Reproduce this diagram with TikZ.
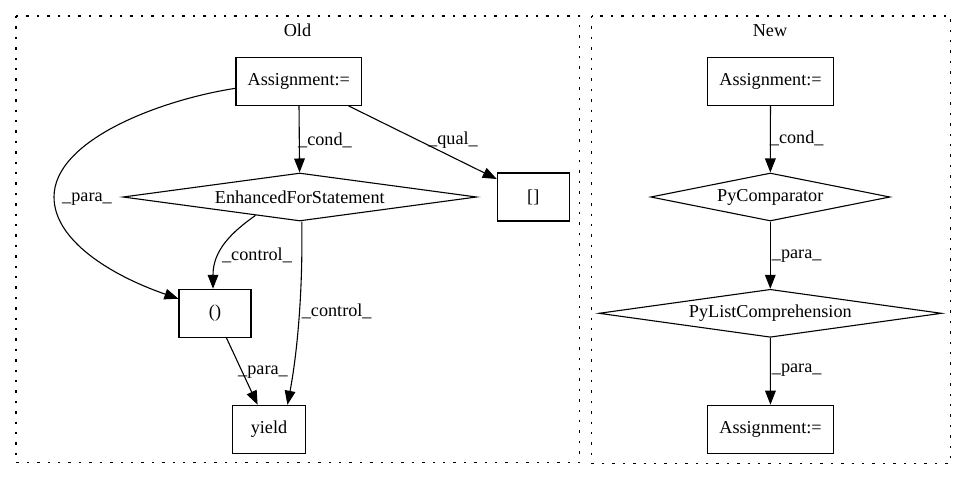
\documentclass[tikz,border=0pt]{standalone}
\usepackage{fontspec}
\setmainfont{Liberation Serif}
\usetikzlibrary{shapes.geometric,arrows.meta,calc}
\begin{document}
\begin{tikzpicture}[x=1pt,y=-1pt,
  every node/.style={font=\fontsize{18.2}{20}\selectfont, inner sep=0pt},
  box/.style={draw, line width=1.1pt, minimum height=48pt},
  dia/.style={draw, diamond, line width=1.1pt, minimum height=48pt},
  conn/.style={line width=1.1pt, -{Triangle[length=14pt,width=10.7pt]}},
  cluster/.style={line width=1.2pt, dash pattern=on 2.4pt off 8pt}]
\useasboundingbox (0,0) rectangle (967,480);
% clusters
\draw[cluster] (16,16) rectangle (579.3,462.7);
\draw[cluster] (591.7,16) rectangle (950.7,463.3);
\node (told) at (297.5,30.7) {Old};
\node (tnew) at (770,30.7) {New};
% Old nodes
\node[box, minimum width=125.7pt] (aold) at (298.8,81.3) {Assignment:=};
\node[dia, aspect=7.37, minimum width=353.7pt] (efs) at (299.8,197) {EnhancedForStatement};
\node[box, minimum width=72pt] (sq) at (533.3,197) {[]};
\node[box, minimum width=72pt] (paren) at (215,313.3) {()};
\node[box, minimum width=72.7pt] (yield) at (269,429.3) {yield};
% New nodes
\node[box, minimum width=125.6pt] (anew1) at (770.5,81.3) {Assignment:=};
\node[dia, aspect=4.99, minimum width=239.3pt] (pycmp) at (770.3,197) {PyComparator};
\node[dia, aspect=7.14, minimum width=342.7pt] (pylc) at (770.3,313.3) {PyListComprehension};
\node[box, minimum width=125.6pt] (anew2) at (770.5,429.2) {Assignment:=};
% Old edges
\draw[conn] (aold) -- (efs);
\node (l1) at (325,140) {\_cond\_};
\draw[conn] (aold) -- (sq);
\node (l2) at (453,140) {\_qual\_};
\draw[conn] ($(aold.west)+(0,7)$) .. controls (160,100) and (54,140) .. (54,197)
  .. controls (54,240) and (110,275) .. ($(paren.north west)+(0,10)$);
\node (l3) at (87,199) {\_para\_};
\draw[conn] ($(efs.south)!0.25!(efs.west)$) .. controls (232,232) and (213,250) .. ($(paren.north)+(-2,0)$);
\node (l4) at (257,255) {\_control\_};
\draw[conn] ($(efs.south)+(2,0)$) .. controls (303,300) and (296,360) .. ($(yield.north)!0.5!(yield.north east)$);
\node (l5) at (336.7,311.7) {\_control\_};
\draw[conn] (paren) -- (yield);
\node (l6) at (263,371.7) {\_para\_};
% New edges
\draw[conn] (anew1) -- (pycmp);
\node (l7) at (796.7,138) {\_cond\_};
\draw[conn] (pycmp) -- (pylc);
\node (l8) at (796.7,256) {\_para\_};
\draw[conn] (pylc) -- (anew2);
\node (l9) at (796.7,370) {\_para\_};
\end{tikzpicture}
\end{document}
